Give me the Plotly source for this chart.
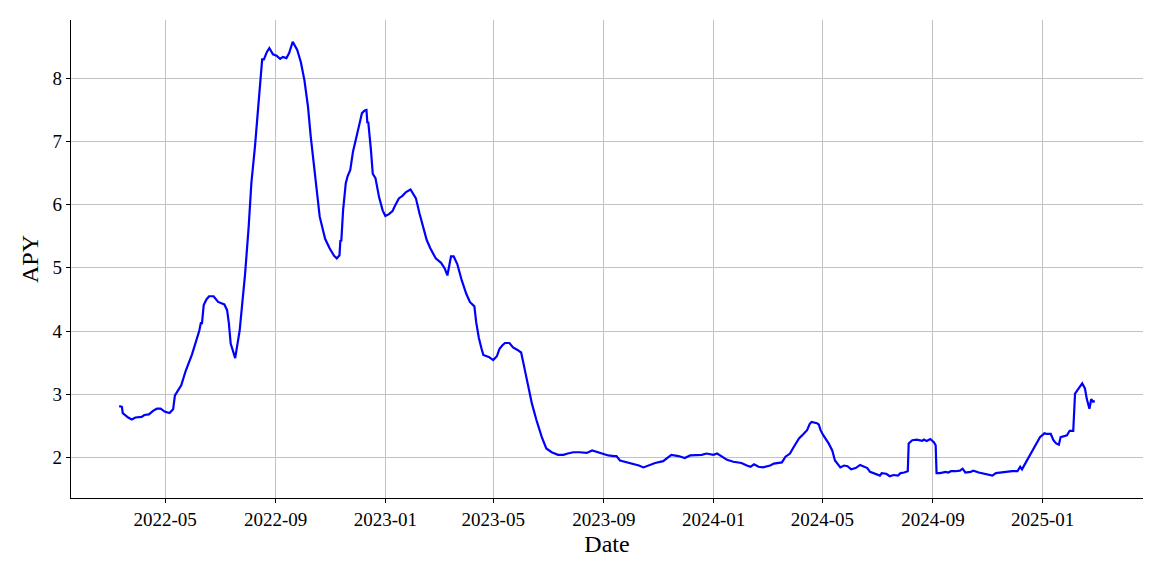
import plotly.graph_objects as go

dates = [
    "2022-03-11", "2022-03-14", "2022-03-15", "2022-03-18", "2022-03-21", "2022-03-25", "2022-03-29",
    "2022-04-05", "2022-04-08", "2022-04-13", "2022-04-18", "2022-04-22", "2022-04-26",
    "2022-05-01", "2022-05-06", "2022-05-10", "2022-05-12", "2022-05-19", "2022-05-24", "2022-05-31",
    "2022-06-05", "2022-06-08", "2022-06-10", "2022-06-11", "2022-06-13", "2022-06-16", "2022-06-19",
    "2022-06-24", "2022-06-29", "2022-07-06", "2022-07-09", "2022-07-11", "2022-07-13", "2022-07-16",
    "2022-07-18", "2022-07-23", "2022-07-26", "2022-07-29", "2022-08-02", "2022-08-05", "2022-08-09",
    "2022-08-13", "2022-08-16", "2022-08-17", "2022-08-19", "2022-08-22", "2022-08-25", "2022-08-29",
    "2022-09-02", "2022-09-06", "2022-09-09", "2022-09-13", "2022-09-16", "2022-09-20", "2022-09-25",
    "2022-09-29", "2022-10-03", "2022-10-07", "2022-10-10", "2022-10-14", "2022-10-17", "2022-10-20",
    "2022-10-26", "2022-10-31", "2022-11-05", "2022-11-08", "2022-11-11", "2022-11-12", "2022-11-13",
    "2022-11-15", "2022-11-18", "2022-11-20", "2022-11-23", "2022-11-26", "2022-11-29", "2022-12-03",
    "2022-12-06", "2022-12-09", "2022-12-11", "2022-12-12", "2022-12-13", "2022-12-16", "2022-12-18",
    "2022-12-21", "2022-12-25", "2022-12-29",
    "2023-01-01", "2023-01-05", "2023-01-09", "2023-01-12", "2023-01-16", "2023-01-20", "2023-01-24",
    "2023-01-29", "2023-01-31", "2023-02-04", "2023-02-08", "2023-02-11", "2023-02-16", "2023-02-20",
    "2023-02-26", "2023-03-04", "2023-03-08", "2023-03-11", "2023-03-15", "2023-03-18", "2023-03-22",
    "2023-03-27", "2023-04-01", "2023-04-05", "2023-04-10", "2023-04-12", "2023-04-15", "2023-04-18",
    "2023-04-20", "2023-04-26", "2023-05-01", "2023-05-05", "2023-05-08", "2023-05-11", "2023-05-14",
    "2023-05-19", "2023-05-23", "2023-05-28", "2023-06-01", "2023-06-04", "2023-06-08", "2023-06-13",
    "2023-06-18", "2023-06-24", "2023-06-29", "2023-07-01", "2023-07-05", "2023-07-12", "2023-07-18",
    "2023-07-23", "2023-07-29", "2023-08-05", "2023-08-13", "2023-08-19", "2023-08-26", "2023-09-01",
    "2023-09-06", "2023-09-12", "2023-09-15", "2023-09-19", "2023-09-27", "2023-10-04", "2023-10-10",
    "2023-10-15", "2023-10-21", "2023-10-28", "2023-11-06", "2023-11-12", "2023-11-15", "2023-11-23",
    "2023-11-30", "2023-12-06", "2023-12-13", "2023-12-19", "2023-12-24",
    "2024-01-01", "2024-01-05", "2024-01-10", "2024-01-16", "2024-01-23", "2024-02-01", "2024-02-07",
    "2024-02-11", "2024-02-15", "2024-02-20", "2024-02-25", "2024-03-04", "2024-03-08", "2024-03-17",
    "2024-03-21", "2024-03-26", "2024-03-30", "2024-04-05", "2024-04-10", "2024-04-14", "2024-04-17",
    "2024-04-19", "2024-04-25", "2024-04-27", "2024-04-29", "2024-05-02", "2024-05-08", "2024-05-12",
    "2024-05-15", "2024-05-21", "2024-05-25", "2024-05-29", "2024-06-02", "2024-06-07", "2024-06-12",
    "2024-06-16", "2024-06-20", "2024-06-23", "2024-06-29", "2024-07-04", "2024-07-06", "2024-07-11",
    "2024-07-15", "2024-07-19", "2024-07-24", "2024-07-27", "2024-07-31", "2024-08-04", "2024-08-05",
    "2024-08-09", "2024-08-14", "2024-08-20", "2024-08-22", "2024-08-25", "2024-08-29", "2024-09-02",
    "2024-09-04", "2024-09-05", "2024-09-09", "2024-09-15", "2024-09-18", "2024-09-21", "2024-09-26",
    "2024-10-01", "2024-10-04", "2024-10-07", "2024-10-13", "2024-10-16", "2024-10-22", "2024-10-27",
    "2024-11-02", "2024-11-06", "2024-11-10", "2024-11-15", "2024-11-23", "2024-11-28", "2024-12-04",
    "2024-12-07", "2024-12-09", "2024-12-13", "2024-12-17", "2024-12-21", "2024-12-25", "2024-12-29",
    "2025-01-03", "2025-01-06", "2025-01-10", "2025-01-13", "2025-01-16", "2025-01-19", "2025-01-21",
    "2025-01-25", "2025-01-28", "2025-01-31", "2025-02-04", "2025-02-06", "2025-02-09", "2025-02-11",
    "2025-02-14", "2025-02-17", "2025-02-19", "2025-02-22", "2025-02-24", "2025-02-26", "2025-02-28",
]

apy = [
    2.81, 2.80, 2.70, 2.66, 2.63, 2.60, 2.63,
    2.64, 2.67, 2.68, 2.74, 2.77, 2.77,
    2.72, 2.70, 2.76, 2.98, 3.14, 3.37, 3.63,
    3.86, 4.00, 4.14, 4.11, 4.41, 4.50, 4.55,
    4.55, 4.46, 4.42, 4.33, 4.12, 3.80, 3.64,
    3.57, 4.01, 4.41, 4.90, 5.65, 6.34, 6.92,
    7.55, 8.03, 8.30, 8.30, 8.41, 8.48, 8.38,
    8.36, 8.31, 8.34, 8.32, 8.40, 8.58, 8.45,
    8.26, 7.97, 7.55, 7.08, 6.55, 6.12, 5.81,
    5.46, 5.31, 5.19, 5.15, 5.20, 5.44, 5.42,
    5.91, 6.34, 6.45, 6.55, 6.84, 7.02, 7.29,
    7.45, 7.49, 7.50, 7.29, 7.31, 6.86, 6.49,
    6.42, 6.12, 5.91,
    5.82, 5.85, 5.90, 5.99, 6.10, 6.14, 6.20,
    6.24, 6.20, 6.10, 5.86, 5.70, 5.44, 5.31,
    5.15, 5.08, 4.99, 4.88, 5.18, 5.18, 5.06,
    4.80, 4.59, 4.46, 4.39, 4.14, 3.89, 3.72,
    3.62, 3.59, 3.54, 3.60, 3.72, 3.77, 3.81,
    3.81, 3.74, 3.70, 3.66, 3.46, 3.17, 2.85,
    2.59, 2.32, 2.14, 2.12, 2.08, 2.04, 2.04,
    2.06, 2.08, 2.08, 2.07, 2.11, 2.08, 2.06,
    2.03, 2.02, 2.02, 1.95, 1.92, 1.90, 1.87,
    1.84, 1.87, 1.91, 1.94, 2.01, 2.04, 2.02,
    1.99, 2.03, 2.04, 2.04, 2.06,
    2.04, 2.06, 2.02, 1.96, 1.93, 1.91, 1.87,
    1.85, 1.89, 1.85, 1.84, 1.87, 1.90, 1.92,
    2.01, 2.06, 2.16, 2.30, 2.37, 2.43, 2.53,
    2.56, 2.54, 2.52, 2.43, 2.35, 2.22, 2.11,
    1.95, 1.84, 1.87, 1.86, 1.81, 1.83, 1.88,
    1.86, 1.83, 1.77, 1.74, 1.71, 1.75, 1.74,
    1.70, 1.72, 1.71, 1.75, 1.76, 1.78, 2.22,
    2.27, 2.28, 2.26, 2.28, 2.26, 2.29, 2.24,
    2.19, 1.75, 1.75, 1.77, 1.76, 1.78, 1.78,
    1.79, 1.82, 1.76, 1.77, 1.79, 1.76, 1.74,
    1.72, 1.71, 1.75, 1.76, 1.78, 1.78, 1.78,
    1.85, 1.81, 1.91, 2.01, 2.11, 2.22, 2.32,
    2.38, 2.37, 2.37, 2.27, 2.22, 2.20, 2.32,
    2.34, 2.35, 2.42, 2.42, 3.01, 3.07, 3.13,
    3.17, 3.09, 2.93, 2.77, 2.92, 2.88, 2.89,
]

x_tickvals = ["2022-05-01", "2022-09-01", "2023-01-01", "2023-05-01", "2023-09-01",
              "2024-01-01", "2024-05-01", "2024-09-01", "2025-01-01"]
x_ticktext = ["2022-05", "2022-09", "2023-01", "2023-05", "2023-09",
              "2024-01", "2024-05", "2024-09", "2025-01"]
y_tickvals = [2, 3, 4, 5, 6, 7, 8]

FONT = "Liberation Serif"

fig = go.Figure()
fig.add_trace(go.Scatter(
    x=dates, y=apy, mode="lines",
    line=dict(color="#0000ff", width=2.2),
    showlegend=False,
))

# page body has an 8px default margin, so the figure is drawn 8px smaller
fig.update_layout(
    width=1155, height=573,
    margin=dict(l=63, r=20, t=12, b=83, pad=0),
    paper_bgcolor="white", plot_bgcolor="white",
    font=dict(family=FONT, size=19, color="black"),
)
fig.update_xaxes(
    type="date",
    automargin=False,
    range=["2022-01-16 10:00", "2025-04-22 14:00"],
    tickvals=x_tickvals, ticktext=x_ticktext,
    showgrid=True, gridcolor="#c2c2c2", gridwidth=1.2,
    showline=True, linecolor="black", linewidth=1.2, mirror=False,
    ticks="outside", ticklen=4, tickcolor="black", tickwidth=1,
    tickfont=dict(family=FONT, size=19, color="black"),
    title=dict(text="Date", font=dict(family=FONT, size=24, color="black"), standoff=6),
    zeroline=False,
)
fig.update_yaxes(
    automargin=False,
    range=[1.356, 8.924],
    tickvals=y_tickvals,
    showgrid=True, gridcolor="#c2c2c2", gridwidth=1.2,
    showline=True, linecolor="black", linewidth=1.2, mirror=False,
    ticks="outside", ticklen=4, tickcolor="black", tickwidth=1,
    tickfont=dict(family=FONT, size=19, color="black"),
    title=dict(text="APY", font=dict(family=FONT, size=24, color="black"), standoff=7),
    zeroline=False,
)

fig.write_html("out.html")
